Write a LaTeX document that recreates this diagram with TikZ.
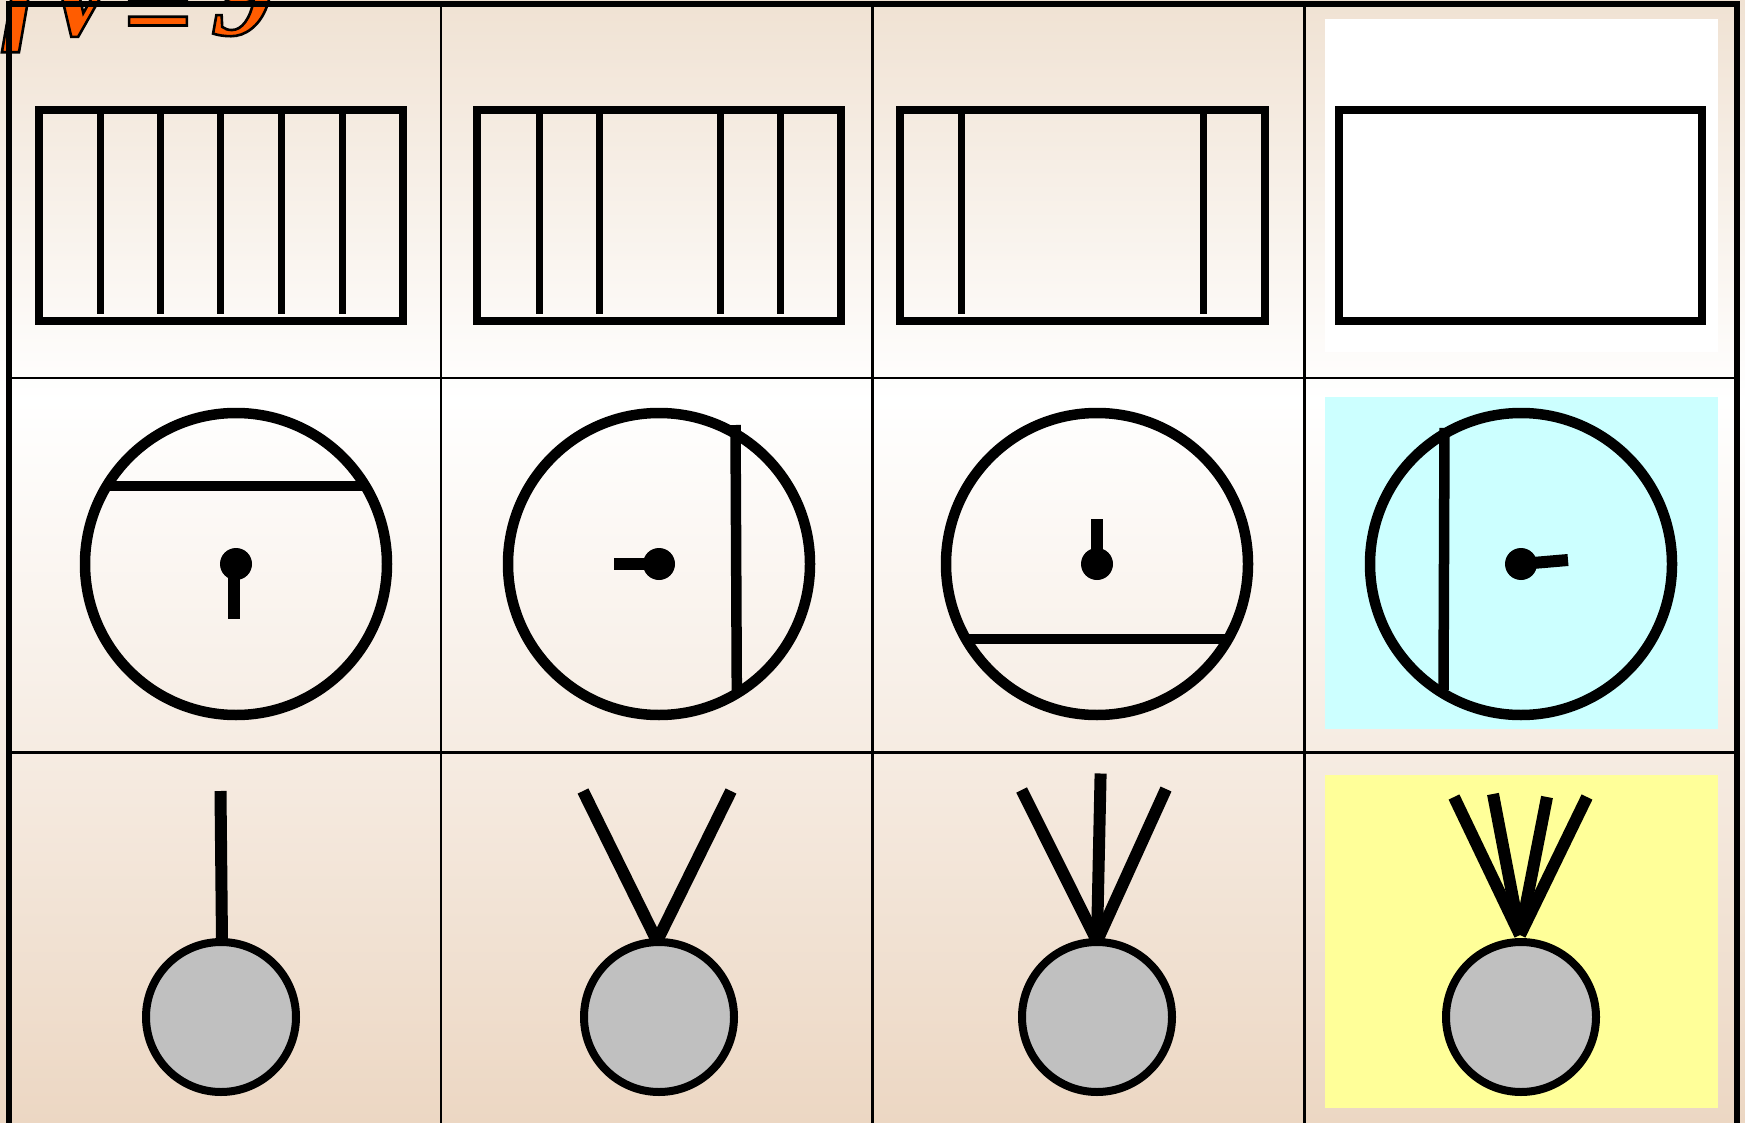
\documentclass[tikz,border=0pt]{standalone}
\usepackage{fontspec}
\newfontfamily\titlefont{Liberation Serif}
\definecolor{bgtop}{RGB}{240,226,211}
\definecolor{bgbot}{RGB}{236,215,195}
\definecolor{ballgray}{RGB}{192,192,192}
\definecolor{cyanbg}{RGB}{204,255,255}
\definecolor{yellowbg}{RGB}{255,255,153}
\definecolor{orng}{RGB}{255,92,0}
\newcommand{\outlinedtext}[1]{\special{pdf:literal direct 2 Tr 2.6 w 0 0 0 RG}#1\special{pdf:literal direct 0 Tr}}
\begin{document}
\begin{tikzpicture}[x=1pt,y=-1pt,line cap=butt,
  frame/.style={line width=7.5pt},
  bar/.style={line width=7pt},
  ring/.style={line width=10.5pt},
  stub/.style={line width=12pt},
  ball/.style={line width=8pt,fill=ballgray},
  gridline/.style={line width=2.5pt},
  border/.style={line width=5.5pt}]
\useasboundingbox (0,0) rectangle (1745,1123);
% background gradient
\shade[top color=bgtop,bottom color=white] (0,0) rectangle (1745,401);
\shade[top color=white,bottom color=bgbot] (0,400) rectangle (1745,1123);
% title fragment
\node[anchor=base west,inner sep=0pt,text=orng,
  font=\titlefont\bfseries\itshape\fontsize{124}{124}\selectfont] (title) at (-8,35)
  {\outlinedtext{ƒ\kern-0.12em V\raisebox{-0.12em}{=}\kern0.15em 9}};
% cell highlight backgrounds
\fill[white] (1325,19) rectangle (1718,352);
\fill[cyanbg] (1325,397) rectangle (1718,729);
\fill[yellowbg] (1325,775) rectangle (1718,1108);
% grid
\draw[gridline] (441,4) -- (441,1130);
\draw[gridline] (872.5,4) -- (872.5,1130);
\draw[gridline] (1304.5,4) -- (1304.5,1130);
\draw[gridline] (9,378) -- (1737,378);
\draw[gridline] (9,752.5) -- (1737,752.5);
\draw[border] (9,1130) -- (9,4) -- (1737,4) -- (1737,1130);
% row 1: frames
\draw[frame] (39,110) rectangle (403,321);
\foreach \x in {100,160,220,281,342} \draw[bar] (\x,110) -- (\x,314);
\draw[frame] (477,110) rectangle (841,321);
\foreach \x in {539,599,720,780} \draw[bar] (\x,110) -- (\x,314);
\draw[frame] (900,110) rectangle (1265,321);
\foreach \x in {961,1203} \draw[bar] (\x,110) -- (\x,314);
\draw[frame,fill=white] (1339,110) rectangle (1702,321);
% row 2: circles
\coordinate (c1) at (236,564);
\coordinate (c2) at (659,564);
\coordinate (c3) at (1097,564);
\coordinate (c4) at (1521,564);
\foreach \c in {c1,c2,c3,c4} \draw[ring] (\c) circle[radius=151pt];
\draw[ring] (107,486) -- (365,486);
\draw[ring] (735.5,425) -- (736.8,690);
\draw[ring] (966,639) -- (1228,639);
\draw[ring] (1444.5,428) -- (1443.5,690);
\foreach \c in {c1,c2,c3,c4} \fill (\c) circle[radius=16pt];
\draw[stub] (234,564) -- (234,619);
\draw[stub] (659,563.5) -- (614,563.5);
\draw[stub] (1097,564) -- (1097,519);
\draw[stub] (1521,564) -- (1568,560);
% row 3: balls with strings
\coordinate (b1) at (221,1017);
\coordinate (b2) at (659,1017);
\coordinate (b3) at (1097,1017);
\coordinate (b4) at (1521,1017);
\draw[stub] (220.5,791) -- (222,941);
\draw[stub,line join=miter] (583,791) -- (657,941) -- (731,791);
\draw[stub] (1021.6,790) -- (1097,941);
\draw[stub] (1100.6,773.5) -- (1097,941);
\draw[stub] (1166,789) -- (1097,941);
\draw[stub] (1454,797) -- (1520,935);
\draw[stub] (1493,794) -- (1520,935);
\draw[stub] (1547,797) -- (1520,935);
\draw[stub] (1587,797) -- (1520,935);
\foreach \b in {b1,b2,b3,b4} \draw[ball] (\b) circle[radius=75pt];
\end{tikzpicture}
\end{document}
